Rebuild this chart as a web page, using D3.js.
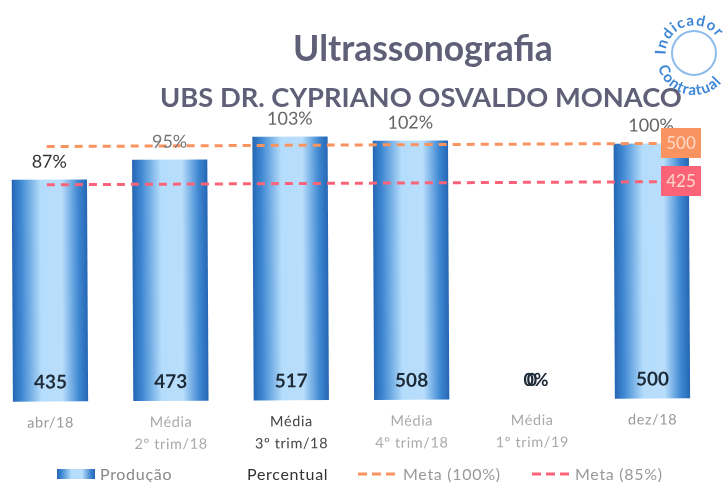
<!DOCTYPE html>
<html><head><meta charset="utf-8">
<script src="https://cdn.jsdelivr.net/npm/d3@7/dist/d3.min.js"></script>
<style>html,body{margin:0;padding:0;background:#fff}svg{display:block}text{font-family:Lato,"Open Sans",sans-serif}</style>
</head><body><svg id="c" width="725" height="482"></svg>
<script>
const categories=[["abr/18"],["Média","2º trim/18"],["Média","3º trim/18"],["Média","4º trim/18"],["Média","1º trim/19"],["dez/18"]];
const producao=[435,473,517,508,0,500];
const percentual=["87%","95%","103%","102%","0%","100%"];
const meta100=500, meta85=425;
const legendLabels=["Produção","Percentual","Meta (100%)","Meta (85%)"];
const metaColors=["#f9935f","#fb6478"];
const pctColors=["#333","#777","#666","#666","#222","#666"];
const catColors=["#999","#aaa","#444","#aaa","#aaa","#999"];

const svg=d3.select("#c");
const defs=svg.append("defs");
const g=defs.append("linearGradient").attr("id","bar");
[[0,"#2566b4"],[.12,"#3f88d2"],[.38,"#b4dcfb"],[.66,"#b9defc"],[.88,"#3f88d2"],[1,"#2566b4"]]
 .forEach(s=>g.append("stop").attr("offset",s[0]).attr("stop-color",s[1]));
defs.append("filter").attr("id","soft").append("feGaussianBlur").attr("stdDeviation",0.45);

const root=svg.append("g").attr("filter","url(#soft)");
const x=d3.scaleBand().domain(d3.range(6)).range([-10,713]).paddingInner(0.375).paddingOuter(0.19);
const y=d3.scaleLinear().domain([0,600]).range([400,94]);
const plot=root.append("g").attr("transform","rotate(-0.29 350 400)");
const cx=i=>x(i)+x.bandwidth()/2;

plot.selectAll("rect.b").data(producao).join("rect").attr("class","b")
 .attr("x",(d,i)=>x(i)).attr("width",x.bandwidth()).attr("y",d=>y(d)).attr("height",d=>y(0)-y(d))
 .attr("fill","url(#bar)");

[[meta100,metaColors[0]],[meta85,metaColors[1]]].forEach(([v,c])=>{
 plot.append("line").attr("x1",48).attr("x2",668).attr("y1",y(v)).attr("y2",y(v))
  .attr("stroke",c).attr("stroke-width",3).attr("stroke-dasharray","8 6");
});

producao.forEach((v,i)=>{
 if(v>0) plot.append("text").attr("x",cx(i)).attr("text-anchor","middle")
  .attr("y",y(v)-12).attr("font-size",18).attr("fill",pctColors[i]).text(percentual[i]);
 plot.append("text").attr("x",cx(i)).attr("y",y(0)-13).attr("text-anchor","middle")
  .attr("font-size",v>0?19:18).attr("font-weight",700).attr("fill","#1f2a38").text(v);
});
// "0" and "0%" are printed on top of each other in the source
plot.append("text").attr("x",cx(4)+4).attr("y",y(0)-13).attr("text-anchor","middle")
 .attr("font-size",18).attr("font-weight",700).attr("fill","#1f2a38").text(percentual[4]);

plot.selectAll("text.cat").data(categories).join("text").attr("class","cat")
 .attr("x",(d,i)=>cx(i)).attr("y",y(0)+26).attr("text-anchor","middle")
 .attr("font-size",14.5).attr("letter-spacing",0.6).attr("fill",(d,i)=>catColors[i])
 .each(function(d){const t0=d3.select(this);t0.selectAll("tspan").data(d).join("tspan")
   .attr("x",t0.attr("x")).attr("dy",(t,j)=>j?22:0).text(t=>t);});

// Badges
[[128,"500",metaColors[0]],[166,"425",metaColors[1]]].forEach(([top,t,c])=>{
 root.append("rect").attr("x",661).attr("y",top).attr("width",40).attr("height",30).attr("fill",c);
 root.append("text").attr("x",681).attr("y",top+21).attr("text-anchor","middle").attr("font-size",17).attr("fill","#ffd9c8").text(t);
});

// Titles
root.append("text").attr("x",423).attr("y",61).attr("text-anchor","middle").attr("font-size",35.5).attr("font-weight",700).attr("fill","#5f5f78").text("Ultrassonografia");
root.append("text").attr("x",421).attr("y",107).attr("text-anchor","middle").attr("font-size",27.3).attr("font-weight",700).attr("fill","#5f5f78").text("UBS DR. CYPRIANO OSVALDO MONACO");

// Stamp
const st=root.append("g").attr("transform","translate(694,53)");
st.append("circle").attr("r",22).attr("fill","none").attr("stroke","#8dbcea").attr("stroke-width",2);
defs.append("path").attr("id","arcT").attr("d","M-27,10 A28.5,28.5 0 1 1 28,6");
defs.append("path").attr("id","arcB").attr("d","M-37,5 A37,37 0 0 0 37,5");
st.append("text").attr("font-size",15).attr("font-weight",700).attr("letter-spacing",1.2).attr("fill","#3f86d6").append("textPath").attr("href","#arcT").attr("startOffset","8%").text("Indicador");
st.append("text").attr("font-size",15).attr("font-weight",700).attr("letter-spacing",1).attr("fill","#3f86d6").append("textPath").attr("href","#arcB").attr("startOffset","8%").text("Contratual");

// Legend
root.append("rect").attr("x",57).attr("y",469).attr("width",38).attr("height",10).attr("fill","url(#bar)");
const lt=[[100,legendLabels[0],"#888"],[247,legendLabels[1],"#333"],[403,legendLabels[2],"#999"],[575,legendLabels[3],"#999"]];
root.selectAll("text.lg").data(lt).join("text").attr("class","lg").attr("x",d=>d[0]).attr("y",480)
 .attr("font-size",16).attr("letter-spacing",0.7).attr("fill",d=>d[2]).text(d=>d[1]);
[[358,metaColors[0]],[532,metaColors[1]]].forEach(([a,c])=>{
 root.append("line").attr("x1",a).attr("x2",a+41).attr("y1",474).attr("y2",474).attr("stroke",c).attr("stroke-width",3).attr("stroke-dasharray","9 5");
});
</script></body></html>
